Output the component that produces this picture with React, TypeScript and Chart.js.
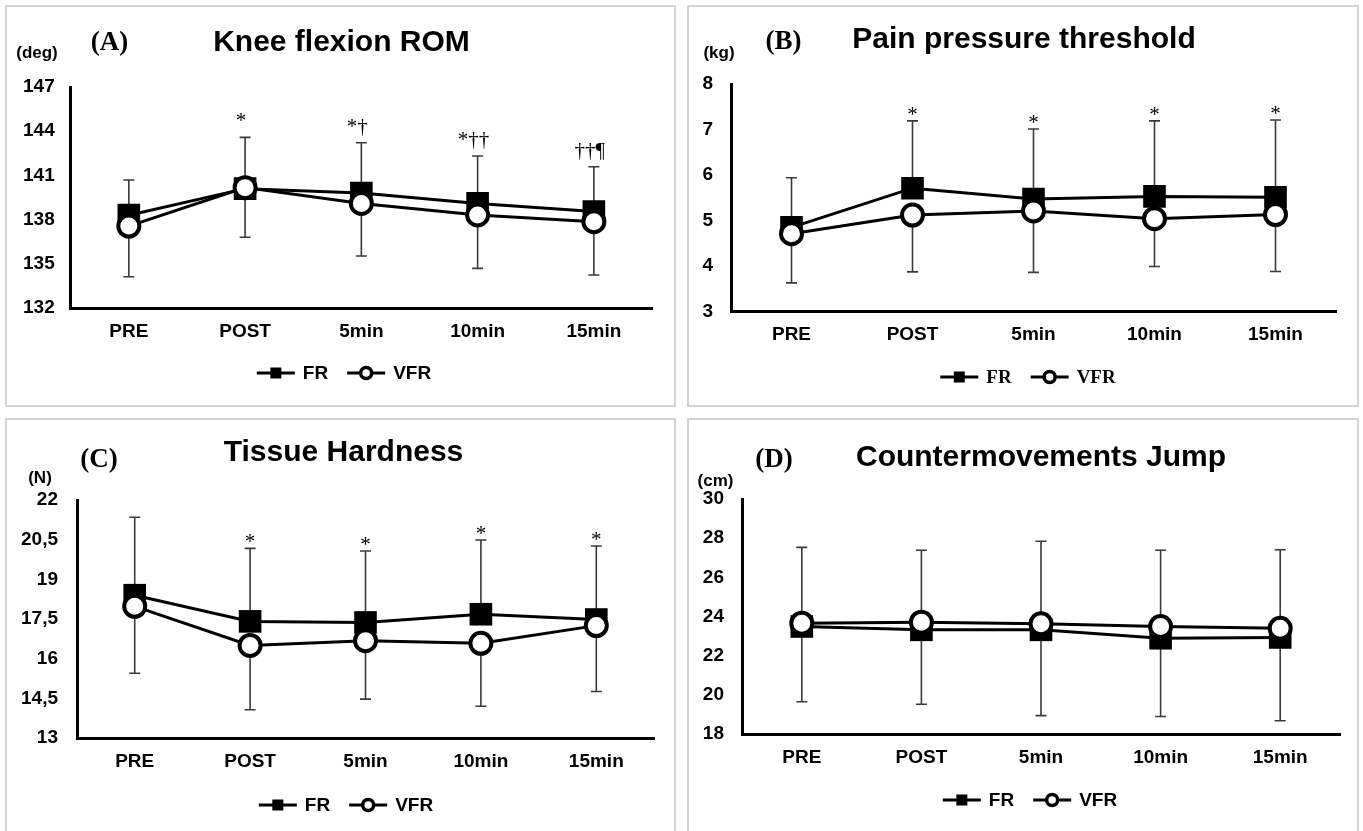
import React, { useEffect, useRef } from "react";
import { Chart, registerables } from "chart.js";

Chart.register(...registerables);

const SANS = '"Liberation Sans", Arial, Helvetica, sans-serif';
const SERIF = '"Liberation Serif", "Times New Roman", Times, serif';

// ---------- data ----------
const categories = ["PRE", "POST", "5min", "10min", "15min"];
const seriesNames = ["FR", "VFR"];

// (A) Knee flexion ROM (deg)
const romFR = [138.3, 140.1, 139.8, 139.1, 138.55];
const romVFR = [137.56, 140.17, 139.1, 138.31, 137.86];
const romFRsd = [2.39, 3.48, 3.42, 3.22, 3.04];
const romVFRsd = [3.44, 3.37, 3.57, 3.62, 3.62];
const romTicks = [132, 135, 138, 141, 144, 147];
const romNotes = ["", "*", "*†", "*††", "††¶"];

// (B) Pain pressure threshold (kg)
const pptFR = [4.85, 5.71, 5.47, 5.53, 5.51];
const pptVFR = [4.71, 5.12, 5.21, 5.04, 5.13];
const pptFRsd = [1.09, 1.48, 1.54, 1.66, 1.7];
const pptVFRsd = [1.08, 1.25, 1.35, 1.05, 1.25];
const pptTicks = [3, 4, 5, 6, 7, 8];
const pptNotes = ["", "*", "*", "*", "*"];

// (C) Tissue Hardness (N)
const hardFR = [18.4, 17.41, 17.37, 17.68, 17.48];
const hardVFR = [17.98, 16.5, 16.68, 16.58, 17.25];
const hardFRsd = [2.95, 2.76, 2.7, 2.81, 2.78];
const hardVFRsd = [2.53, 2.43, 2.21, 2.38, 2.49];
const hardTicks = [13, 14.5, 16, 17.5, 19, 20.5, 22];
const hardNotes = ["", "*", "*", "*", "*"];

// (D) Countermovements Jump (cm)
const cmjFR = [23.49, 23.32, 23.32, 22.89, 22.93];
const cmjVFR = [23.66, 23.71, 23.63, 23.49, 23.4];
const cmjFRsd = [4.04, 4.06, 4.52, 4.49, 4.48];
const cmjVFRsd = [4.01, 4.19, 4.69, 4.6, 4.72];
const cmjTicks = [18, 20, 22, 24, 26, 28, 30];
const cmjNotes = ["", "", "", "", ""];

// ---------- layout (page coordinates) ----------
type Panel = {
  box: { x: number; y: number; w: number; h: number };
  area: { l: number; t: number; r: number; b: number };
  tag: string;
  title: string;
  unit: string;
  tagPos: [number, number];
  titlePos: [number, number];
  unitPos: [number, number];
  fr: number[];
  vfr: number[];
  frSD: number[];
  vfrSD: number[];
  ticks: number[];
  comma: boolean;
  notes: string[];
  noteGap: number;
  noteDx: number;
  yPad: number;
  legendPos: [number, number];
  legendSerif: boolean;
};

const panels: Panel[] = [
  {
    box: { x: 5, y: 5, w: 671, h: 402 },
    area: { l: 70.7, t: 87, r: 652, b: 308 },
    tag: "(A)", title: "Knee flexion ROM", unit: "(deg)",
    tagPos: [109.5, 43], titlePos: [341.5, 43], unitPos: [37, 53],
    fr: romFR, vfr: romVFR, frSD: romFRsd, vfrSD: romVFRsd,
    ticks: romTicks, comma: false, notes: romNotes, noteGap: 10, noteDx: -4,
    yPad: 16, legendPos: [344, 373], legendSerif: false,
  },
  {
    box: { x: 687, y: 5, w: 672, h: 402 },
    area: { l: 731, t: 84, r: 1336, b: 311.5 },
    tag: "(B)", title: "Pain pressure threshold", unit: "(kg)",
    tagPos: [783.5, 42], titlePos: [1024, 40], unitPos: [719, 53],
    fr: pptFR, vfr: pptVFR, frSD: pptFRsd, vfrSD: pptVFRsd,
    ticks: pptTicks, comma: false, notes: pptNotes, noteGap: 0, noteDx: 0,
    yPad: 18, legendPos: [1028, 377], legendSerif: true,
  },
  {
    box: { x: 5, y: 418, w: 671, h: 430 },
    area: { l: 77, t: 500, r: 654, b: 738 },
    tag: "(C)", title: "Tissue Hardness", unit: "(N)",
    tagPos: [99, 460], titlePos: [343.5, 453], unitPos: [40, 478],
    fr: hardFR, vfr: hardVFR, frSD: hardFRsd, vfrSD: hardVFRsd,
    ticks: hardTicks, comma: true, notes: hardNotes, noteGap: 0, noteDx: 0,
    yPad: 19, legendPos: [346, 805], legendSerif: false,
  },
  {
    box: { x: 687, y: 418, w: 672, h: 430 },
    area: { l: 742, t: 499, r: 1340, b: 734 },
    tag: "(D)", title: "Countermovements Jump", unit: "(cm)",
    tagPos: [774, 460], titlePos: [1041, 458], unitPos: [715.5, 481],
    fr: cmjFR, vfr: cmjVFR, frSD: cmjFRsd, vfrSD: cmjVFRsd,
    ticks: cmjTicks, comma: false, notes: cmjNotes, noteGap: 0, noteDx: 0,
    yPad: 18, legendPos: [1030, 800], legendSerif: false,
  },
];

function drawLegend(ctx: CanvasRenderingContext2D, cx: number, cy: number, serif: boolean) {
  ctx.save();
  ctx.font = `bold 19px ${serif ? SERIF : SANS}`;
  const lineLen = 38;
  const gapText = 8;
  const gapItem = 19;
  const w1 = ctx.measureText(seriesNames[0]).width;
  const w2 = ctx.measureText(seriesNames[1]).width;
  const total = lineLen + gapText + w1 + gapItem + lineLen + gapText + w2;
  let x = cx - total / 2;
  ctx.strokeStyle = "#000";
  ctx.fillStyle = "#000";
  ctx.lineWidth = 3;
  // FR
  ctx.beginPath();
  ctx.moveTo(x, cy);
  ctx.lineTo(x + lineLen, cy);
  ctx.stroke();
  ctx.fillRect(x + lineLen / 2 - 5.5, cy - 5.5, 11, 11);
  x += lineLen + gapText;
  ctx.textAlign = "left";
  ctx.textBaseline = "middle";
  ctx.fillText(seriesNames[0], x, cy + 1);
  x += w1 + gapItem;
  // VFR
  ctx.beginPath();
  ctx.moveTo(x, cy);
  ctx.lineTo(x + lineLen, cy);
  ctx.stroke();
  ctx.beginPath();
  ctx.arc(x + lineLen / 2, cy, 5.5, 0, Math.PI * 2);
  ctx.fillStyle = "#fff";
  ctx.fill();
  ctx.lineWidth = 3.5;
  ctx.stroke();
  ctx.fillStyle = "#000";
  x += lineLen + gapText;
  ctx.fillText(seriesNames[1], x, cy + 1);
  ctx.restore();
}

function PanelChart({ p }: { p: Panel }) {
  const ref = useRef<HTMLCanvasElement | null>(null);
  useEffect(() => {
    const canvas = ref.current;
    if (!canvas) return;
    const W = p.box.w;
    const H = p.box.h;
    const ox = p.box.x;
    const oy = p.box.y;
    const areaL = p.area.l - ox;
    const areaT = p.area.t - oy;
    const areaR = p.area.r - ox;
    const areaB = p.area.b - oy;

    const deco = {
      id: "deco",
      beforeDatasetsDraw(chart: any) {
        const ctx: CanvasRenderingContext2D = chart.ctx;
        const xs = chart.scales.x;
        const ys = chart.scales.y;
        ctx.save();
        ctx.strokeStyle = "#3a3a3a";
        ctx.lineWidth = 1.6;
        const cap = 5.5;
        for (let i = 0; i < categories.length; i++) {
          const x = xs.getPixelForValue(i);
          const yTop = ys.getPixelForValue(p.fr[i] + p.frSD[i]);
          const yFr = ys.getPixelForValue(p.fr[i]);
          const yBot = ys.getPixelForValue(p.vfr[i] - p.vfrSD[i]);
          const yV = ys.getPixelForValue(p.vfr[i]);
          ctx.beginPath();
          ctx.moveTo(x, yFr);
          ctx.lineTo(x, yTop);
          ctx.moveTo(x - cap, yTop);
          ctx.lineTo(x + cap, yTop);
          ctx.moveTo(x, yV);
          ctx.lineTo(x, yBot);
          ctx.moveTo(x - cap, yBot);
          ctx.lineTo(x + cap, yBot);
          ctx.stroke();
        }
        ctx.restore();
      },
      afterDraw(chart: any) {
        const ctx: CanvasRenderingContext2D = chart.ctx;
        const xs = chart.scales.x;
        const ys = chart.scales.y;
        ctx.save();
        ctx.fillStyle = "#000";
        ctx.textAlign = "center";
        ctx.textBaseline = "middle";
        ctx.font = `bold 30px ${SANS}`;
        ctx.fillText(p.title, p.titlePos[0] - ox, p.titlePos[1] - oy);
        ctx.font = `bold 27px ${SERIF}`;
        ctx.fillText(p.tag, p.tagPos[0] - ox, p.tagPos[1] - oy);
        ctx.font = `bold 17px ${SANS}`;
        ctx.fillText(p.unit, p.unitPos[0] - ox, p.unitPos[1] - oy);
        // significance notes
        ctx.font = `21px ${SERIF}`;
        ctx.textBaseline = "alphabetic";
        for (let i = 0; i < categories.length; i++) {
          if (!p.notes[i]) continue;
          const x = xs.getPixelForValue(i) + p.noteDx;
          const yTop = ys.getPixelForValue(p.fr[i] + p.frSD[i]);
          ctx.fillText(p.notes[i], x, yTop - p.noteGap);
        }
        ctx.restore();
        drawLegend(ctx, p.legendPos[0] - ox, p.legendPos[1] - oy, p.legendSerif);
      },
    };

    const tickFont = { family: SANS, size: 19, weight: "bold" as const };
    const chart = new Chart(canvas, {
      type: "line",
      data: {
        labels: categories,
        datasets: [
          {
            label: seriesNames[0],
            data: p.fr,
            order: 1,
            borderColor: "#000",
            borderWidth: 3,
            pointStyle: "rect",
            pointRadius: 16,
            pointBackgroundColor: "#000",
            pointBorderColor: "#000",
            pointBorderWidth: 0,
            tension: 0,
          },
          {
            label: seriesNames[1],
            data: p.vfr,
            order: 0,
            borderColor: "#000",
            borderWidth: 3,
            pointStyle: "circle",
            pointRadius: 10.5,
            pointBackgroundColor: "#fff",
            pointBorderColor: "#000",
            pointBorderWidth: 4,
            tension: 0,
          },
        ],
      },
      options: {
        animation: false,
        responsive: false,
        events: [],
        layout: { padding: { left: 0, top: areaT, right: W - areaR, bottom: 0 } },
        plugins: {
          legend: { display: false },
          tooltip: { enabled: false },
          title: { display: false },
        },
        scales: {
          x: {
            type: "category",
            offset: true,
            grid: { display: false, drawTicks: false },
            border: { display: true, color: "#000", width: 3 },
            ticks: { color: "#000", font: tickFont, padding: 12, maxRotation: 0, autoSkip: false },
            afterFit: (s: any) => {
              s.height = H - areaB;
            },
          },
          y: {
            type: "linear",
            min: p.ticks[0],
            max: p.ticks[p.ticks.length - 1],
            grid: { display: false, drawTicks: false },
            border: { display: true, color: "#000", width: 3 },
            ticks: {
              color: "#000",
              font: tickFont,
              padding: p.yPad,
              callback: (v: any) => (p.comma ? String(v).replace(".", ",") : String(v)),
            },
            afterBuildTicks: (s: any) => {
              s.ticks = p.ticks.map((v) => ({ value: v }));
            },
            afterFit: (s: any) => {
              s.width = areaL;
            },
          },
        },
      },
      plugins: [deco],
    } as any);
    return () => chart.destroy();
  }, [p]);

  return (
    <div
      style={{
        position: "absolute",
        left: p.box.x,
        top: p.box.y,
        width: p.box.w,
        height: p.box.h,
      }}
    >
      <canvas
        ref={ref}
        width={p.box.w}
        height={p.box.h}
        style={{ position: "absolute", left: 0, top: 0, width: p.box.w, height: p.box.h }}
      />
      <div
        style={{
          position: "absolute",
          left: 0,
          top: 0,
          width: p.box.w,
          height: p.box.h,
          border: "2px solid #d3d3d3",
          boxSizing: "border-box",
          pointerEvents: "none",
        }}
      />
    </div>
  );
}

export default function App() {
  return (
    <div
      style={{
        position: "absolute",
        left: 0,
        top: 0,
        width: 1363,
        height: 831,
        overflow: "hidden",
        background: "#fff",
      }}
    >
      {panels.map((p, i) => (
        <PanelChart key={i} p={p} />
      ))}
    </div>
  );
}
